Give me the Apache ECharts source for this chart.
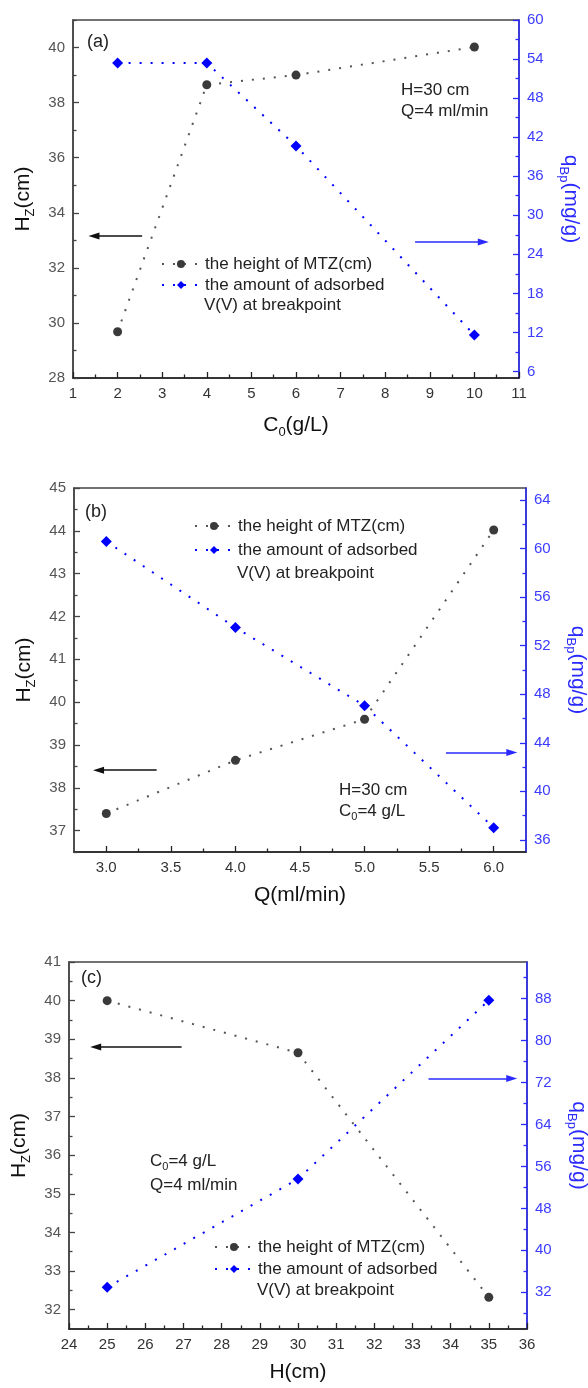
<!DOCTYPE html>
<html>
<head>
<meta charset="utf-8">
<script src="https://cdn.jsdelivr.net/npm/echarts@6/dist/echarts.min.js"></script>
<style>
html, body { margin: 0; padding: 0; background: #fff; }
#chart { width: 588px; height: 1388px; }
</style>
</head>
<body>
<div id="chart"></div>
<script>
// (a) effect of C0
const c0 = [2, 4, 6, 10]
const hzA = [29.68, 38.65, 39.0, 40.02]
const qbpA = [53.4, 53.4, 40.65, 11.6]
// (b) effect of Q
const flow = [3, 4, 5, 6]
const hzB = [37.4, 38.64, 39.6, 44.02]
const qbpB = [60.6, 53.5, 47.06, 37.0]
// (c) effect of H
const bedH = [25, 30, 35]
const hzC = [40.0, 38.65, 32.32]
const qbpC = [32.95, 53.6, 87.7]

// tick values
const xTickA = [1, 2, 3, 4, 5, 6, 7, 8, 9, 10, 11]
const xMinorA = [1.5, 2.5, 3.5, 4.5, 5.5, 6.5, 7.5, 8.5, 9.5, 10.5]
const hzTickA = [28, 30, 32, 34, 36, 38, 40]
const hzMinorA = [29, 31, 33, 35, 37, 39, 41]
const qTickA = [6, 12, 18, 24, 30, 36, 42, 48, 54, 60]
const qMinorA = [9, 15, 21, 27, 33, 39, 45, 51, 57]

const xTickB = [3, 3.5, 4, 4.5, 5, 5.5, 6]
const xMinorB = [3.25, 3.75, 4.25, 4.75, 5.25, 5.75]
const hzTickB = [37, 38, 39, 40, 41, 42, 43, 44, 45]
const hzMinorB = [36.5, 37.5, 38.5, 39.5, 40.5, 41.5, 42.5, 43.5, 44.5]
const qTickB = [36, 40, 44, 48, 52, 56, 60, 64]
const qMinorB = [38, 42, 46, 50, 54, 58, 62]

const xTickC = [24, 25, 26, 27, 28, 29, 30, 31, 32, 33, 34, 35, 36]
const xMinorC = [24.5, 25.5, 26.5, 27.5, 28.5, 29.5, 30.5, 31.5, 32.5, 33.5, 34.5, 35.5]
const hzTickC = [32, 33, 34, 35, 36, 37, 38, 39, 40, 41]
const hzMinorC = [32.5, 33.5, 34.5, 35.5, 36.5, 37.5, 38.5, 39.5, 40.5]
const qTickC = [32, 40, 48, 56, 64, 72, 80, 88]
const qMinorC = [28, 36, 44, 52, 60, 68, 76, 84, 92]

const hzName = 'the height of MTZ(cm)'
const qName = 'the amount of adsorbed'
const qName2 = 'V(V) at breakpoint'

const font = '"Liberation Sans", Arial, Helvetica, sans-serif'
const dark = '#3a3a3a'
const blue = '#0000ff'
const axisBlue = '#2a2aff'

// subscript: padding on top pushes the small token down
const sub = {
  a: { fontSize: 21, fontFamily: font },
  s: { fontSize: 13, fontFamily: font, padding: [15, 0, 0, 0] }
}
const subBlue = {
  a: { fontSize: 21, fontFamily: font, color: axisBlue },
  s: { fontSize: 13, fontFamily: font, color: axisBlue, padding: [15, 0, 0, 0] }
}

function xAx(grid, min, max, ticks, minor, name, fmt) {
  return [{
    type: 'value', gridIndex: grid, min, max, position: 'bottom',
    name, nameLocation: 'middle', nameGap: 33,
    nameTextStyle: { color: '#111', rich: sub },
    axisLine: { lineStyle: { color: '#222', width: 1.5 } },
    axisTick: { inside: true, length: 6, customValues: ticks, lineStyle: { color: '#222', width: 1.3 } },
    axisLabel: { customValues: ticks, margin: 8, color: '#333', fontSize: 15, fontFamily: font, formatter: fmt },
    splitLine: { show: false }
  }, {
    type: 'value', gridIndex: grid, min, max, position: 'bottom',
    axisLine: { show: false },
    axisTick: { inside: true, length: 3.5, customValues: minor, lineStyle: { color: '#222', width: 1.3 } },
    axisLabel: { show: false },
    splitLine: { show: false }
  }]
}

function yAx(grid, side, min, max, ticks, minor, name) {
  const right = side === 'right'
  const col = right ? axisBlue : '#444'
  return [{
    type: 'value', gridIndex: grid, min, max, position: side,
    name, nameLocation: 'middle', nameGap: right ? 38 : 29, nameRotate: right ? -90 : 90,
    nameTextStyle: { color: right ? axisBlue : '#111', rich: right ? subBlue : sub },
    axisLine: { show: true, lineStyle: { color: col, width: 1.5 } },
    axisTick: { inside: true, length: 6, customValues: ticks, lineStyle: { color: col, width: 1.3 } },
    axisLabel: { customValues: ticks, margin: 8, color: right ? '#3c3cff' : '#555', fontSize: 15, fontFamily: font },
    splitLine: { show: false }
  }, {
    type: 'value', gridIndex: grid, min, max, position: side,
    axisLine: { show: false },
    axisTick: { inside: true, length: 3.5, customValues: minor, lineStyle: { color: col, width: 1.3 } },
    axisLabel: { show: false },
    splitLine: { show: false }
  }]
}

function arrow(from, to, color) {
  return {
    silent: true,
    label: { show: false },
    lineStyle: { color, width: 1.5, type: 'solid' },
    emphasis: { disabled: true },
    data: [[
      { coord: from, symbol: 'none' },
      { coord: to, symbol: 'triangle', symbolSize: [7, 11] }
    ]]
  }
}

function hzSeries(p, x, y, arr) {
  return {
    name: hzName, type: 'line', xAxisIndex: 2 * p, yAxisIndex: 4 * p,
    data: x.map((v, i) => [v, y[i]]),
    symbol: 'circle', symbolSize: 9,
    itemStyle: { color: dark },
    lineStyle: { color: '#555', width: 2, type: [2, 9] },
    markLine: arrow(arr[0], arr[1], '#111')
  }
}

function qSeries(p, x, y, arr) {
  return {
    name: qName, type: 'line', xAxisIndex: 2 * p, yAxisIndex: 4 * p + 2,
    data: x.map((v, i) => [v, y[i]]),
    symbol: 'diamond', symbolSize: 11,
    itemStyle: { color: blue },
    lineStyle: { color: blue, width: 2, type: [2, 9] },
    markLine: arrow(arr[0], arr[1], axisBlue)
  }
}

function legend(left, top, gap) {
  return {
    left, top, orient: 'vertical', itemWidth: 38, itemHeight: 10, itemGap: gap,
    selectedMode: false,
    textStyle: { fontSize: 17, fontFamily: font, color: '#222', lineHeight: 18 },
    data: [hzName, qName]
  }
}

function txt(x, y, text, size) {
  return {
    type: 'text', x, y, silent: true,
    style: {
      text, fontSize: size, fontFamily: font, fill: '#222', verticalAlign: 'middle',
      rich: {
        a: { fontSize: size, fontFamily: font, fill: '#222' },
        s: { fontSize: 11, fontFamily: font, fill: '#222', padding: [12, 0, 0, 0] }
      }
    }
  }
}

const gridBase = { show: true, borderColor: '#444', borderWidth: 1.5, outerBoundsMode: 'none', containLabel: false }

const chart = echarts.init(document.getElementById('chart'))
const option = {
  animation: false,
  backgroundColor: '#fff',
  textStyle: { fontFamily: font },
  grid: [
    { ...gridBase, left: 73, top: 20, width: 446, height: 358 },
    { ...gridBase, left: 74, top: 488, width: 452, height: 364 },
    { ...gridBase, left: 69, top: 962, width: 458, height: 367 }
  ],
  xAxis: [
    ...xAx(0, 1, 11, xTickA, xMinorA, '{a|C}{s|0}{a|(g/L)}'),
    ...xAx(1, 2.75, 6.25, xTickB, xMinorB, '{a|Q(ml/min)}', v => v.toFixed(1)),
    ...xAx(2, 24, 36, xTickC, xMinorC, '{a|H(cm)}')
  ],
  yAxis: [
    ...yAx(0, 'left', 28, 41, hzTickA, hzMinorA, '{a|H}{s|Z}{a|(cm)}'),
    ...yAx(0, 'right', 5, 60, qTickA, qMinorA, '{a|q}{s|Bp}{a|(mg/g)}'),
    ...yAx(1, 'left', 36.5, 45, hzTickB, hzMinorB, '{a|H}{s|Z}{a|(cm)}'),
    ...yAx(1, 'right', 35, 65, qTickB, qMinorB, '{a|q}{s|Bp}{a|(mg/g)}'),
    ...yAx(2, 'left', 31.5, 41, hzTickC, hzMinorC, '{a|H}{s|Z}{a|(cm)}'),
    ...yAx(2, 'right', 25, 95, qTickC, qMinorC, '{a|q}{s|Bp}{a|(mg/g)}')
  ],
  legend: [
    legend(156, 250, 3),
    legend(189, 512, 6),
    legend(209, 1233, 4)
  ],
  graphic: [
    txt(87, 42, '(a)', 18),
    txt(401, 90, 'H=30 cm', 17),
    txt(401, 111, 'Q=4 ml/min', 17),
    txt(204, 305, qName2, 17),
    txt(85, 512, '(b)', 18),
    txt(339, 790, 'H=30 cm', 17),
    txt(339, 811, '{a|C}{s|0}{a|=4 g/L}', 17),
    txt(237, 573, qName2, 17),
    txt(81, 978, '(c)', 18),
    txt(150, 1161, '{a|C}{s|0}{a|=4 g/L}', 17),
    txt(150, 1185, 'Q=4 ml/min', 17),
    txt(257, 1290, qName2, 17)
  ],
  series: [
    hzSeries(0, c0, hzA, [[2.55, 33.16], [1.47, 33.16]]),
    qSeries(0, c0, qbpA, [[8.67, 25.9], [10.2, 25.9]]),
    hzSeries(1, flow, hzB, [[3.39, 38.41], [2.94, 38.41]]),
    qSeries(1, flow, qbpB, [[5.63, 43.2], [6.14, 43.2]]),
    hzSeries(2, bedH, hzC, [[26.95, 38.8], [24.7, 38.8]]),
    qSeries(2, bedH, qbpC, [[33.42, 72.8], [35.6, 72.8]])
  ]
}
chart.setOption(option)
</script>
</body>
</html>
